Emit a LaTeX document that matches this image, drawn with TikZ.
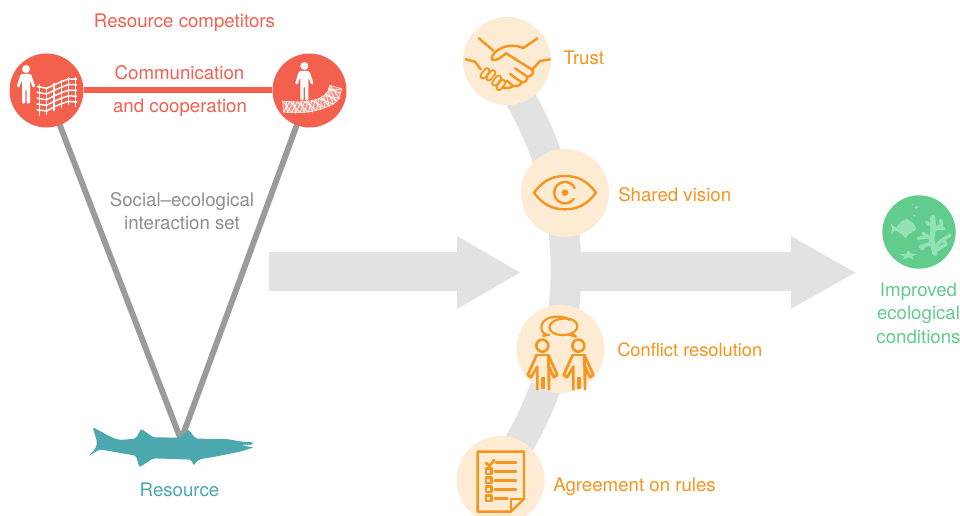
\documentclass[tikz,border=0pt]{standalone}
\usepackage{fontspec}
\setmainfont{TeX Gyre Heros}
\usetikzlibrary{backgrounds}
\definecolor{cred}{HTML}{F4604E}
\definecolor{corange}{HTML}{F7941D}
\definecolor{cpeach}{HTML}{FDEBD3}
\definecolor{cgrey}{HTML}{8E8E8E}
\definecolor{cline}{HTML}{9B9B9B}
\definecolor{cband}{HTML}{E2E2E2}
\definecolor{cteal}{HTML}{4AA8AE}
\definecolor{cgreen}{HTML}{62CC8C}
\definecolor{clight}{HTML}{93E2B5}
\tikzset{
  lbl/.style={font=\fontsize{14}{16}\selectfont,inner sep=0pt},
  redlbl/.style={lbl,text=cred},
  orangelbl/.style={lbl,text=corange,anchor=west},
  greylbl/.style={lbl,text=cgrey},
  greenlbl/.style={lbl,text=cgreen},
  reddisc/.style={circle,fill=cred,minimum size=55.5pt,inner sep=0pt},
  peachdisc/.style={circle,fill=cpeach,minimum size=66pt,inner sep=0pt},
  greendisc/.style={circle,fill=cgreen,minimum size=55pt,inner sep=0pt},
  tie/.style={draw=cline,line width=4.4pt},
  bigarrow/.style={fill=cband},
  zoomed/.style={x=.25pt,y=-.25pt},
  ico/.style={draw=corange,line width=1.8pt,line cap=round,line join=round},
  netline/.style={draw=white,line width=1.1pt},
  finenet/.style={draw=white,line width=.4pt},
  lightline/.style={draw=clight,line cap=round,line join=round}
}
\newcommand{\personshape}[2]{%
  \begin{scope}[shift={(#1,#2)}]
    \fill[white] (78,207) circle[radius=12];
    \fill[white,rounded corners=1pt] (62,222)--(93,222)--(106,260)--(99,264)--(90,240)--(90,311)--(80,311)--(80,268)--(76,268)--(76,311)--(66,311)--(66,240)--(57,264)--(50,260)--cycle;
  \end{scope}}
\newcommand{\talker}[1]{%
  \begin{scope}[shift={(#1,0)}]
    \draw[ico,line width=2pt] (277,137) circle[radius=18];
    \draw[ico,line width=2pt] (260,165)--(233,225)--(243,232)--(262,200)--(262,268);
    \draw[ico,line width=2pt] (297,268)--(297,200)--(312,232)--(322,225)--(295,165)--cycle;
    \draw[ico,line width=2pt] (260,165)--(295,165);
    \draw[ico,line width=3pt,line cap=butt] (279,232)--(279,268);
  \end{scope}}
\begin{document}
\begin{tikzpicture}[x=.75pt,y=-.75pt]
\clip (0,0) rectangle (960,516);
% big grey shapes
\fill[bigarrow] (269,252)--(457,252)--(457,236)--(520,272.5)--(457,309)--(457,291)--(269,291)--cycle;
\fill[bigarrow] (570,252)--(791,252)--(791,236)--(855,272.5)--(791,309)--(791,291)--(570,291)--cycle;
\draw[cband,line width=23pt,domain=-38:38,samples=60] plot ({221+345*cos(\x)},{270+345*sin(\x)});
% red discs
\node[reddisc] (compA) at (46.5,90.5) {};
\node[reddisc] (compB) at (309.5,90.5) {};
\coordinate (fishTop) at (181,440);
\begin{pgfonlayer}{background}
  \fill[white] (0,0) rectangle (960,516);
  \draw[cred,line width=4.5pt] (compA) -- (compB);
  \draw[tie] (compA.center) -- (fishTop);
  \draw[tie] (compB.center) -- (fishTop);
\end{pgfonlayer}
% left icon
\begin{scope}[zoomed]
  \personshape{0}{0}
  \foreach \xa/\ya/\yb in {118/252/347,140/260/345,162/250/332,184/240/323,205/232/316,226/230/320}
    \draw[netline] (\xa,\ya)--(\xa,\yb);
  \foreach \t in {0.06,0.26,0.46,0.66,0.86}
    \draw[netline] ({110},{254+\t*88})--({140},{260+\t*85})--({162},{250+\t*82})--({184},{240+\t*83})--({205},{232+\t*84})--({231},{232+\t*86});
  % right icon
  \personshape{835}{-9}
  \draw[finenet,fill=white,fill opacity=.3] (848,303)--(870,305)--(892,306)--(914,305)--(936,302)--(956,296)--(972,287)--(984,274)--(990,256)--(1025,266)--(1018,295)--(1000,312)--(975,323)--(950,331)--(925,336)--(900,338)--(875,338)--(850,336)--cycle;
  \draw[finenet,line width=.55pt] (848,303)--(875,338)--(892,306)--(925,336)--(936,302)--(975,323)--(972,287)--(1018,295)--(990,256);
  \draw[finenet,line width=.55pt] (850,336)--(870,305)--(900,338)--(914,305)--(950,331)--(956,296)--(1000,312)--(984,274)--(1025,266);
  \draw[finenet,line width=.55pt] (859,303)--(862,337)--(881,305)--(887,338)--(903,306)--(912,337)--(925,304)--(937,334)--(946,299)--(962,328)--(964,292)--(987,318)--(978,281)--(1009,304)--(987,265)--(1021,280);
\end{scope}
% texts left
\node[redlbl] (title) at (184.5,22.5) {Resource competitors};
\node[redlbl] (comm) at (179.5,73) {Communication};
\node[redlbl] (coop) at (180,107.5) {and cooperation};
\node[greylbl] (soc) at (182,202) {Social–ecological};
\node[greylbl] (inter) at (182,223) {interaction set};
\node[lbl,text=cteal] (res) at (179.5,490) {Resource};
% fish
\begin{scope}[shift={(80,410)},zoomed]
  \fill[cteal,rounded corners=1.5pt] (38,52)--(62,64)--(90,80)--(118,90)--(168,86)--(183,56)--(220,82)--(300,83)--(325,58)--(347,86)--(440,87)--(485,95)--(520,97)--(519,104)--(487,107)--(522,112)--(480,125)--(400,141)--(357,148)--(340,167)--(335,149)--(220,145)--(178,172)--(168,137)--(110,127)--(60,118)--(25,138)--(45,118)--(52,98)--cycle;
  \foreach \a in {490,497,504,511} \fill[white] (\a,104)--(\a+4,104)--(\a+2,109)--cycle;
\end{scope}
% process discs
\node[peachdisc] (trust) at (507,61) {};
\node[peachdisc] (vision) at (565,193) {};
\node[peachdisc] (conflict) at (560.5,349) {};
\node[peachdisc] (rules) at (500.5,480) {};
\node[orangelbl] (l1) at (563,57.5) {Trust};
\node[orangelbl] (l2) at (618,195) {Shared vision};
\node[orangelbl,font=\fontsize{13.7}{16}\selectfont] (l3) at (617,349.5) {Conflict resolution};
\node[orangelbl] (l4) at (553,487) {Agreement on rules};
% handshake
\begin{scope}[shift={(450,10)},zoomed]
  \draw[ico] (47,148)--(75,155)--(92,178);
  \draw[ico] (300,148)--(270,153)--(245,180);
  \draw[ico] (87,85)--(130,122);
  \draw[ico] (262,85)--(220,114) .. controls (200,106) and (180,104) .. (160,112) .. controls (140,118) and (125,135) .. (125,145) .. controls (126,154) and (140,154) .. (168,130)--(245,178) .. controls (255,188) and (245,200) .. (232,200)--(195,175);
  \draw[ico] (232,200) .. controls (232,212) and (225,218) .. (215,217)--(180,192);
  \draw[ico] (215,217) .. controls (212,226) and (200,230) .. (190,228)--(170,212);
  \draw[ico] (190,228) .. controls (180,235) and (165,235) .. (155,232);
  \foreach \a/\b in {105/190,123/196,140/212,153/225}
    \draw[draw=corange,line width=5.2pt,line cap=round] (\a-6,\b+8)--(\a+6,\b-8);
  \foreach \a/\b in {105/190,123/196,140/212,153/225}
    \draw[draw=cpeach,line width=2.4pt,line cap=round] (\a-6,\b+8)--(\a+6,\b-8);
  \draw[ico] (252,548) .. controls (280,510) and (310,498) .. (345,498) .. controls (380,498) and (410,510) .. (438,548) .. controls (410,586) and (380,598) .. (345,598) .. controls (310,598) and (280,586) .. (252,548)--cycle;
  \draw[ico,domain=25:325,samples=40] plot ({345+32*cos(\x)},{548-32*sin(\x)});
  \fill[corange] (345,548) circle[radius=10];
\end{scope}
% conflict + checklist
\begin{scope}[shift={(450,300)},zoomed]
  \draw[ico,line width=1.6pt] (290,104) .. controls (265,100) and (265,50) .. (320,50) .. controls (345,50) and (352,55) .. (358,60);
  \draw[ico,line width=1.6pt] (285,100)--(280,108)--(298,104);
  \draw[ico,line width=1.6pt] (338,56) .. controls (395,50) and (398,105) .. (338,105) .. controls (285,105) and (285,60) .. (338,56)--cycle;
  \draw[ico,line width=1.6pt] (366,100)--(378,110)--(355,104);
  \talker{0}
  \talker{108}
  \draw[ico] (83,455)--(222,455)--(222,597)--(182,635)--(83,635)--cycle;
  \draw[ico] (222,597)--(183,597)--(183,635);
  \draw[ico,line width=2pt] (108,489)--(118,498)--(133,480);
  \draw[ico] (138,487)--(198,487);
  \foreach \yy/\xe in {514/198,541/198,568/198,595/172}{
    \draw[ico] (108,\yy-8) rectangle (125,\yy+8);
    \draw[ico] (134,\yy)--(\xe,\yy);
  }
\end{scope}
% outcome
\node[greendisc] (eco) at (919,232) {};
\begin{scope}[shift={(870,185)},zoomed]
  \fill[clight] (60,115)--(78,128)--(95,108)--(110,102)--(125,110)--(138,127)--(136,136)--(115,148)--(106,161)--(96,148)--(76,136)--(62,148)--(67,130)--cycle;
  \fill[clight] (140,67) circle[radius=5] (128,58) circle[radius=2.5] (133,92) circle[radius=3.5];
  \fill[clight] (115,196)--(122,206)--(142,208)--(126,214)--(132,224)--(115,217)--(98,224)--(104,214)--(86,208)--(108,206)--cycle;
  \draw[lightline,line width=4pt] (195,205)--(185,165)--(190,125)--(188,98);
  \draw[lightline,line width=2.6pt] (190,125)--(170,112) (188,140)--(215,118) (200,130)--(222,130) (215,118)--(212,105) (185,165)--(160,145) (172,155)--(145,160) (185,175)--(150,185) (165,180)--(155,192) (192,190)--(215,165) (207,173)--(240,150) (220,160)--(228,178) (200,195)--(225,180);
\end{scope}
\node[greenlbl] (g1) at (918.5,292) {Improved};
\node[greenlbl] (g2) at (918.5,315) {ecological};
\node[greenlbl] (g3) at (918.5,337) {conditions};
\end{tikzpicture}
\end{document}
